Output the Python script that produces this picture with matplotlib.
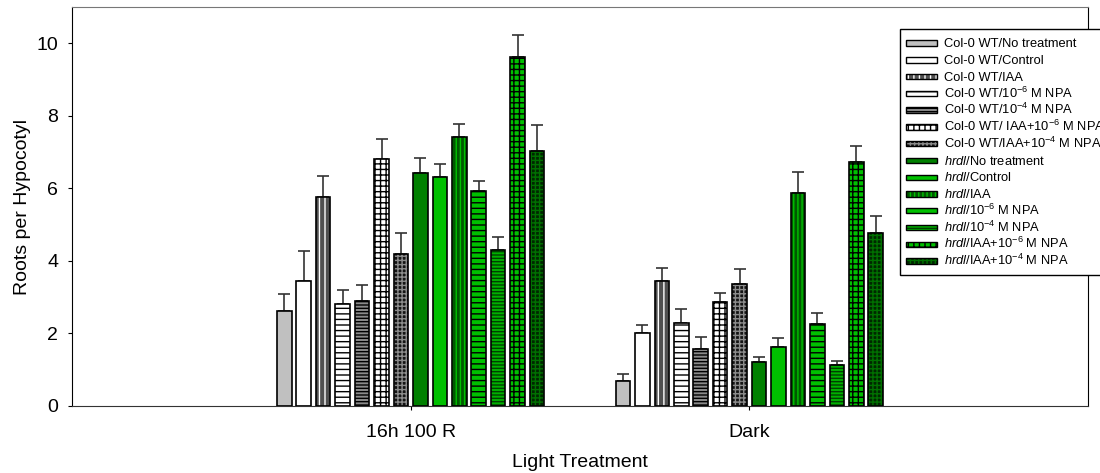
import matplotlib
matplotlib.use("Agg")
import matplotlib.pyplot as plt
import numpy as np
from matplotlib.patches import Patch, Rectangle
from matplotlib.legend_handler import HandlerPatch

plt.rcParams['font.family'] = ['Liberation Sans', 'DejaVu Sans']
plt.rcParams['mathtext.fontset'] = 'custom'
plt.rcParams['mathtext.rm'] = 'Liberation Sans'
plt.rcParams['mathtext.it'] = 'Liberation Sans:italic'
plt.rcParams['hatch.linewidth'] = 1.0

# Data
groups = ["16h 100 R", "Dark"]
series = [
    "Col-0 WT/No treatment",
    "Col-0 WT/Control",
    "Col-0 WT/IAA",
    r"Col-0 WT/10$^{-6}$ M NPA",
    r"Col-0 WT/10$^{-4}$ M NPA",
    r"Col-0 WT/ IAA+10$^{-6}$ M NPA",
    r"Col-0 WT/IAA+10$^{-4}$ M NPA",
    r"$\it{hrdl}$/No treatment",
    r"$\it{hrdl}$/Control",
    r"$\it{hrdl}$/IAA",
    r"$\it{hrdl}$/10$^{-6}$ M NPA",
    r"$\it{hrdl}$/10$^{-4}$ M NPA",
    r"$\it{hrdl}$/IAA+10$^{-6}$ M NPA",
    r"$\it{hrdl}$/IAA+10$^{-4}$ M NPA",
]
means_light = [2.63, 3.45, 5.77, 2.82, 2.90, 6.82, 4.20, 6.41, 6.32, 7.41, 5.94, 4.30, 9.62, 7.04]
err_light = [0.45, 0.82, 0.57, 0.37, 0.43, 0.53, 0.58, 0.44, 0.34, 0.37, 0.25, 0.36, 0.61, 0.70]
means_dark = [0.68, 2.00, 3.45, 2.29, 1.56, 2.86, 3.37, 1.22, 1.63, 5.88, 2.25, 1.12, 6.74, 4.76]
err_dark = [0.21, 0.23, 0.36, 0.39, 0.33, 0.26, 0.42, 0.14, 0.25, 0.57, 0.32, 0.13, 0.42, 0.49]

# Fill, hatch pattern and hatch line colour for each series
faces = ['#c0c0c0', 'white', '#505050', 'white', '#8a8a8a', 'white', '#141414',
         '#008000', '#00c000', '#005800', '#00c000', '#00b000', '#00c000', '#002800']
hatches = [None, None, '|||', '---', '-----', '+++', '++++',
           None, None, '||||', '---', '-----', '+++', '++++']
hatch_cols = ['black', 'black', 'white', 'black', 'black', 'black', '#8c8c8c',
              'black', 'black', '#00c000', 'black', '#004000', 'black', '#007000']

fig = plt.figure(figsize=(11, 4.73), dpi=100)
ax = fig.add_axes([72 / 1100, 1 - 406 / 473, (1088 - 72) / 1100, (406 - 7) / 473])

n = len(series)
pitch = 0.0574
width = 0.043
xc = np.arange(1, len(groups) + 1)
handles = []
for i in range(n):
    x = xc + (i - (n - 1) / 2) * pitch
    vals = [means_light[i], means_dark[i]]
    errs = [err_light[i], err_dark[i]]
    ax.errorbar(x, vals, yerr=[[0, 0], errs], fmt='none', ecolor='#333333',
                elinewidth=1.2, capsize=4, capthick=1.2, zorder=1)
    ax.bar(x, vals, width, color=faces[i], hatch=hatches[i],
           edgecolor=hatch_cols[i], linewidth=0, zorder=2)
    ax.bar(x, vals, width, fill=False, edgecolor='black', linewidth=1.2, zorder=3)
    h1 = Patch(facecolor=faces[i], hatch=hatches[i], edgecolor=hatch_cols[i], linewidth=0)
    h2 = Patch(fill=False, edgecolor='black', linewidth=1.0)
    handles.append((h1, h2))

ax.set_xlim(0, 3)
ax.set_ylim(0, 11)
ax.set_xticks(xc)
ax.set_xticklabels(groups, fontsize=14)
ax.set_yticks([0, 2, 4, 6, 8, 10])
ax.tick_params(axis='y', labelsize=14, direction='out', length=3, pad=7)
ax.tick_params(axis='x', direction='out', length=3, pad=10)
ax.spines['top'].set_color('#777777')
ax.spines['bottom'].set_color('#333333')
ax.set_xlabel("Light Treatment", fontsize=14, labelpad=9)
ax.set_ylabel("Roots per Hypocotyl", fontsize=14, labelpad=4)


def thin_patch(legend, orig_handle, xdescent, ydescent, width, height, fontsize):
    # slim key drawn in the middle of a taller row
    hh = 0.42 * fontsize
    return Rectangle((-xdescent, -ydescent + (height - hh) / 2), width, hh)


leg = fig.legend(handles, series, loc='upper left',
                 bbox_to_anchor=(900 / 1100, 1 - 29 / 473),
                 fontsize=9.25, frameon=True, fancybox=False, edgecolor='black',
                 framealpha=1, handlelength=2.4, handleheight=1.63, labelspacing=0,
                 handletextpad=0.55, borderpad=0.45, borderaxespad=0,
                 handler_map={Patch: HandlerPatch(patch_func=thin_patch)})
leg.get_frame().set_linewidth(1.0)

fig.savefig("out.png", dpi=100)
